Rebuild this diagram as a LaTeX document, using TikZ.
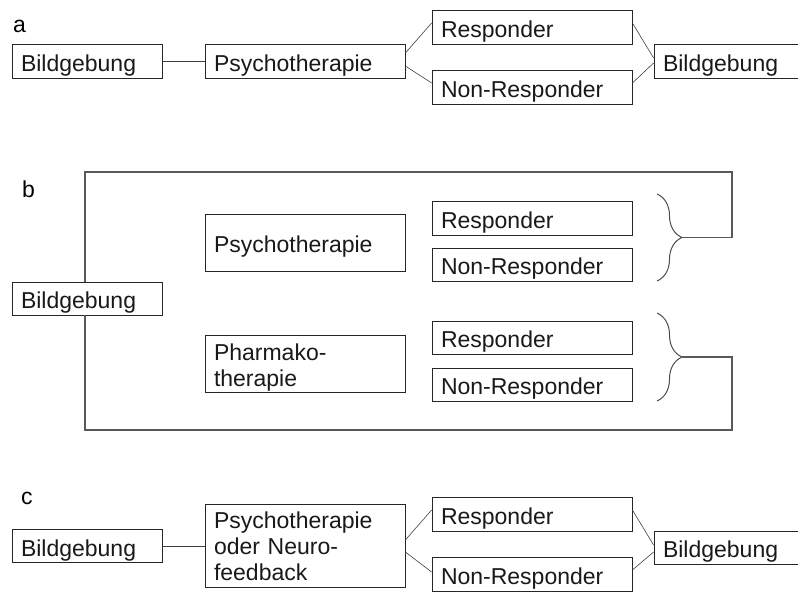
\documentclass[tikz,border=0pt]{standalone}
\usepackage{fontspec}
\setmainfont{Liberation Sans}
\usetikzlibrary{decorations.pathreplacing}

\begin{document}
\begin{tikzpicture}[
    % Coordenadas em pixels da figura (eixo y para baixo)
    x=1pt, y=-1pt,
    % Estilo padrão das caixas
    feld/.style={rectangle, draw=black!85, line width=0.8pt, fill=white,
      align=left, inner xsep=9pt, inner ysep=0pt, text=black!90,
      text height=25pt, font=\fontsize{23}{26}\selectfont},
    % Larguras das caixas
    schmal/.style={feld, text width=132pt, minimum height=33pt},
    breit/.style={feld, text width=182pt, minimum height=34pt},
    rechts/.style={feld, text width=127pt, minimum height=34pt},
    % Linhas de ligação
    linie/.style={draw=black!75, line width=0.6pt},
    schleife/.style={draw=black!65, line width=1.2pt},
    klammer/.style={draw=black!70, line width=1pt, decorate,
      decoration={brace, amplitude=25pt}},
    % Letras das partes
    marke/.style={anchor=base west, inner sep=0pt,
      font=\fontsize{23}{26}\selectfont}
  ]
  \useasboundingbox (0,0) rectangle (798,592);

  % Parte a
  \node[marke] (la) at (13,32) {a};
  \node[schmal, minimum height=34pt] (aBild) at (87,61) {Bildgebung};
  \node[breit] (aPsy) at (305,61) {Psychotherapie};
  \node[breit] (aResp) at (532,27) {Responder};
  \node[breit] (aNon) at (532,87) {Non-Responder};
  \node[rechts] (aBild2) at (726.5,61) {Bildgebung};

  \draw[linie] (aBild) -- (aPsy);
  \draw[linie] ([yshift=8pt]aPsy.east) -- ([yshift=4pt]aResp.west);
  \draw[linie] ([yshift=-5pt]aPsy.east) -- ([yshift=4pt]aNon.west);
  \draw[linie] ([yshift=4pt]aResp.east) -- ([yshift=3pt]aBild2.west);
  \draw[linie] ([yshift=4pt]aNon.east) -- ([yshift=-2pt]aBild2.west);

  % Parte b
  \node[marke] (lb) at (22,197) {b};
  \node[schmal] (bBild) at (87,298.5) {Bildgebung};
  \node[breit, minimum height=57pt] (bPsy) at (305,242.5) {Psychotherapie};
  \node[breit, minimum height=57pt] (bPharm) at (305,363.5) {Pharmako-\\therapie};
  \node[breit] (bResp1) at (532,218) {Responder};
  \node[breit, minimum height=33pt] (bNon1) at (532,264.5) {Non-Responder};
  \node[breit, minimum height=33pt] (bResp2) at (532,337.5) {Responder};
  \node[breit, minimum height=33pt] (bNon2) at (532,384.5) {Non-Responder};

  % Chaves à direita dos grupos
  \draw[klammer] (657,194) -- (657,281);
  \draw[klammer] (657,313) -- (657,401);
  \coordinate (k1) at (682,237.5);
  \coordinate (k2) at (682,357);

  % Laço de volta à imagem
  \coordinate (oben) at (732,172);
  \coordinate (unten) at (732,430);
  \draw[schleife] ([xshift=-2pt]bBild.north) |- (oben) |- (k1);
  \draw[schleife] ([xshift=-2pt]bBild.south) |- (unten) |- (k2);

  % Parte c
  \node[marke] (lc) at (21,504) {c};
  \node[schmal] (cBild) at (87,546) {Bildgebung};
  \node[breit, minimum height=83pt, text height=19pt] (cPsy) at (305,545.5) {Psychotherapie\\oder Neuro-\\feedback};
  \node[breit] (cResp) at (532,514) {Responder};
  \node[breit] (cNon) at (532,574) {Non-Responder};
  \node[rechts, minimum height=33pt] (cBild2) at (726.5,547.5) {Bildgebung};

  \draw[linie] (cBild) -- (cBild -| cPsy.west);
  \draw[linie] ([yshift=5.5pt]cPsy.east) -- ([yshift=4pt]cResp.west);
  \draw[linie] ([yshift=-6.5pt]cPsy.east) -- ([yshift=2pt]cNon.west);
  \draw[linie] ([yshift=4pt]cResp.east) -- ([yshift=2.5pt]cBild2.west);
  \draw[linie] ([yshift=4pt]cNon.east) -- ([yshift=-4.5pt]cBild2.west);

\end{tikzpicture}
\end{document}
